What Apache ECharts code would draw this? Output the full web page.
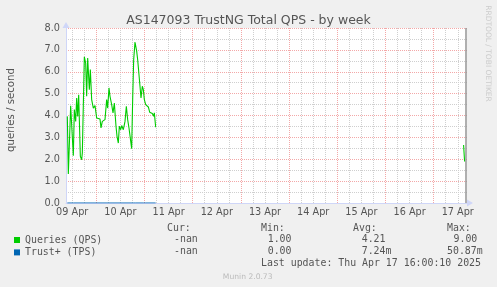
<!DOCTYPE html>
<html><head><meta charset="utf-8">
<script src="https://cdn.jsdelivr.net/npm/echarts@6/dist/echarts.min.js"></script>
<style>html,body{margin:0;padding:0;background:#f0f0f0}#c{width:497px;height:287px}</style>
</head><body><div id="c"></div>
<script>
// ---- data ----
const titleText = 'AS147093 TrustNG Total QPS - by week';
const yAxisTitle = 'queries / second';
const dayLabels = ['09 Apr','10 Apr','11 Apr','12 Apr','13 Apr','14 Apr','15 Apr','16 Apr','17 Apr'];
const dayLabelHours = [12,36,60,84,108,132,156,180,204];      // hours since 09 Apr 00:00 (noon of each day)
const midnightHours = [24,48,72,96,120,144,168,192];
const sixHourHours = [12,18,30,36,42,54,60,66,78,84,90,102,108,114,126,132,138,150,156,162,174,180,186,198,204];
const yMajorTicks = [0,1,2,3,4,5,6,7,8];
const yMinorTicks = [0.5,1.5,2.5,3.5,4.5,5.5,6.5,7.5];

const qpsHours = [9.57,10.07,11.23,12.56,13.06,13.73,14.22,14.72,15.22,16.05,
  16.71,17.04,18.04,18.71,19.2,19.7,20.53,21.03,21.69,22.52,
  23.35,24.18,25.01,25.84,26.34,27.0,27.67,28.33,29.16,29.66,
  30.32,30.82,31.65,32.32,32.98,33.81,34.31,34.97,35.47,36.14,
  36.63,37.46,38.29,38.96,39.62,40.28,40.95,41.61,42.11,42.61,
  43.27,44.10,44.60,45.10,45.76,46.26,46.92,47.42,47.92,48.59,
  49.25,49.91,50.58,51.24,51.90,52.57,52.9,53.57,
  54.0,
  206.9,207.2,207.4];
const qpsValues = [3.96,1.33,4.45,2.16,4.27,3.73,4.80,3.96,4.95,2.13,
  1.98,2.29,6.68,6.40,4.88,6.63,5.18,6.10,4.73,4.34,
  4.45,3.89,3.84,3.84,3.43,3.73,3.66,3.81,4.73,4.34,
  5.26,4.88,4.50,4.12,4.57,3.51,3.05,2.74,3.51,3.35,
  3.54,3.35,3.73,4.42,3.81,3.43,3.35,2.48,4.73,6.55,
  7.36,6.94,6.55,6.51,5.34,4.80,5.34,5.18,4.73,4.50,
  4.57,4.39,4.15,4.16,4.09,3.96,4.12,3.46,
  null,
  2.65,2.62,1.9];
const trustHours = [9.57,12.56,13.04,13.5,42.4,42.9,43.4,47.4,47.9,48.4,53.57];
const trustValues = [0,0,0.05,0,0,0.05,0,0,0.05,0,0];
const nowHour = 208;

const seriesNames = ['Queries (QPS)','Trust+ (TPS)'];
const curValues = ['-nan','-nan'];
const minValues = ['1.00','0.00'];
const avgValues = ['4.21','7.24m'];
const maxValues = ['9.00','50.87m'];
const lastUpdate = 'Last update: Thu Apr 17 16:00:10 2025';
const footer = 'Munin 2.0.73';
const sideText = 'RRDTOOL / TOBI OETIKER';

// ---- chart ----
const xMin = 8.91, xMax = 208.6;
const axisColor = '#CFD6F8';
const fontColor = '#555555';
const sans = 'DejaVu Sans', mono = 'DejaVu Sans Mono';
const redGrid = '#F3A8A8', grayGrid = '#CFCFCF';

function pairs(xs, ys){ return xs.map((x,i)=>[x, ys[i] === null ? '-' : ys[i]]); }

function hiddenAxis(extra){
  return Object.assign({
    type:'value', gridIndex:0, show:true,
    axisLine:{show:false}, axisLabel:{show:false}
  }, extra);
}

const chart = echarts.init(document.getElementById('c'), null, {renderer:'canvas'});
const monoText = (text, x, y, extra) => ({type:'text', x, y, silent:true,
  style: Object.assign({text, fill:fontColor, fontFamily:mono, fontSize:9.9, align:'left', verticalAlign:'middle'}, extra||{})});

const option = {
  backgroundColor:'#F0F0F0',
  animation:false,
  title:{text:titleText, left:'center', top:14, padding:0,
    textStyle:{fontFamily:sans, fontSize:12.5, fontWeight:'normal', color:fontColor}},
  legend:[
    {data:[seriesNames[0]], left:14, top:235, padding:0, icon:'rect', itemWidth:6, itemHeight:6,
      textStyle:{fontFamily:mono, fontSize:9.9, color:fontColor}, selectedMode:false},
    {data:[seriesNames[1]], left:14, top:247.4, padding:0, icon:'rect', itemWidth:6, itemHeight:6,
      textStyle:{fontFamily:mono, fontSize:9.9, color:fontColor}, selectedMode:false}
  ],
  grid:{left:66, top:28, width:401, height:175, show:true, backgroundColor:'#FFFFFF', borderWidth:0},
  xAxis:[
    {type:'value', min:xMin, max:xMax, z:2,
      axisLine:{show:true, lineStyle:{color:axisColor, width:1}, symbol:['none','triangle'], symbolSize:[7,6], symbolOffset:[0,3]},
      axisTick:{show:false, customValues:dayLabelHours},
      axisLabel:{customValues:dayLabelHours, color:fontColor, fontFamily:sans, fontSize:9.7, margin:4,
        formatter:(v)=>dayLabels[dayLabelHours.indexOf(Math.round(v))] || ''},
      splitLine:{show:false}},
    hiddenAxis({min:xMin, max:xMax, z:0, axisTick:{show:false, customValues:sixHourHours},
      splitLine:{show:true, lineStyle:{color:grayGrid, width:1, type:[1,1]}}}),
    hiddenAxis({min:xMin, max:xMax, z:1, axisTick:{show:false, customValues:midnightHours},
      splitLine:{show:true, lineStyle:{color:redGrid, width:1, type:[1,1]}}})
  ],
  yAxis:[
    {type:'value', min:0, max:8, interval:1, z:2,
      axisLine:{show:true, lineStyle:{color:axisColor, width:1}, symbol:['none','triangle'], symbolSize:[7,6], symbolOffset:[0,3]},
      axisTick:{show:false},
      axisLabel:{color:fontColor, fontFamily:sans, fontSize:9.7, margin:6, formatter:(v)=>v.toFixed(1)},
      splitLine:{show:true, showMinLine:false, lineStyle:{color:redGrid, width:1, type:[1,1]}}},
    hiddenAxis({min:0, max:8, z:0, axisTick:{show:false, customValues:yMinorTicks},
      splitLine:{show:true, lineStyle:{color:grayGrid, width:1, type:[1,1]}}})
  ],
  series:[
    {name:seriesNames[1], type:'line', xAxisIndex:0, yAxisIndex:0, z:3,
      data:pairs(trustHours, trustValues), symbol:'none', connectNulls:false,
      lineStyle:{color:'#0066B3', width:1}, itemStyle:{color:'#0066B3'}},
    {name:seriesNames[0], type:'line', xAxisIndex:0, yAxisIndex:0, z:4,
      data:pairs(qpsHours, qpsValues), symbol:'none', connectNulls:false,
      lineStyle:{color:'#00CC00', width:1.1}, itemStyle:{color:'#00CC00'},
      markLine:{silent:true, symbol:'none', label:{show:false},
        lineStyle:{color:'#949494', width:1.5, type:'solid'}, data:[{xAxis:nowHour}]}}
  ],
  graphic:[
    {type:'text', x:11, y:110, rotation:Math.PI/2, silent:true,
      style:{text:yAxisTitle, fill:fontColor, fontFamily:sans, fontSize:10.2, align:'center', verticalAlign:'middle'}},
    {type:'text', x:487.5, y:53.5, rotation:-Math.PI/2, silent:true,
      style:{text:sideText, fill:'#CCCCCC', fontFamily:sans, fontSize:7.5, align:'center', verticalAlign:'middle'}},
    monoText('Cur:', 167, 228.3), monoText('Min:', 261, 228.3), monoText('Avg:', 353, 228.3), monoText('Max:', 447, 228.3),
    monoText(curValues[0], 174, 239.5), monoText(minValues[0], 267.7, 239.5), monoText(avgValues[0], 361.7, 239.5), monoText(maxValues[0], 453.5, 239.5),
    monoText(curValues[1], 174, 251.7), monoText(minValues[1], 267.7, 251.7), monoText(avgValues[1], 361.7, 251.7), monoText(maxValues[1], 447, 251.7),
    monoText(lastUpdate, 261, 263.8),
    {type:'text', x:247.7, y:276.7, silent:true,
      style:{text:footer, fill:'#BBBBBB', fontFamily:sans, fontSize:7.6, align:'center', verticalAlign:'middle'}}
  ]
};
chart.setOption(option);
</script>
</body></html>
